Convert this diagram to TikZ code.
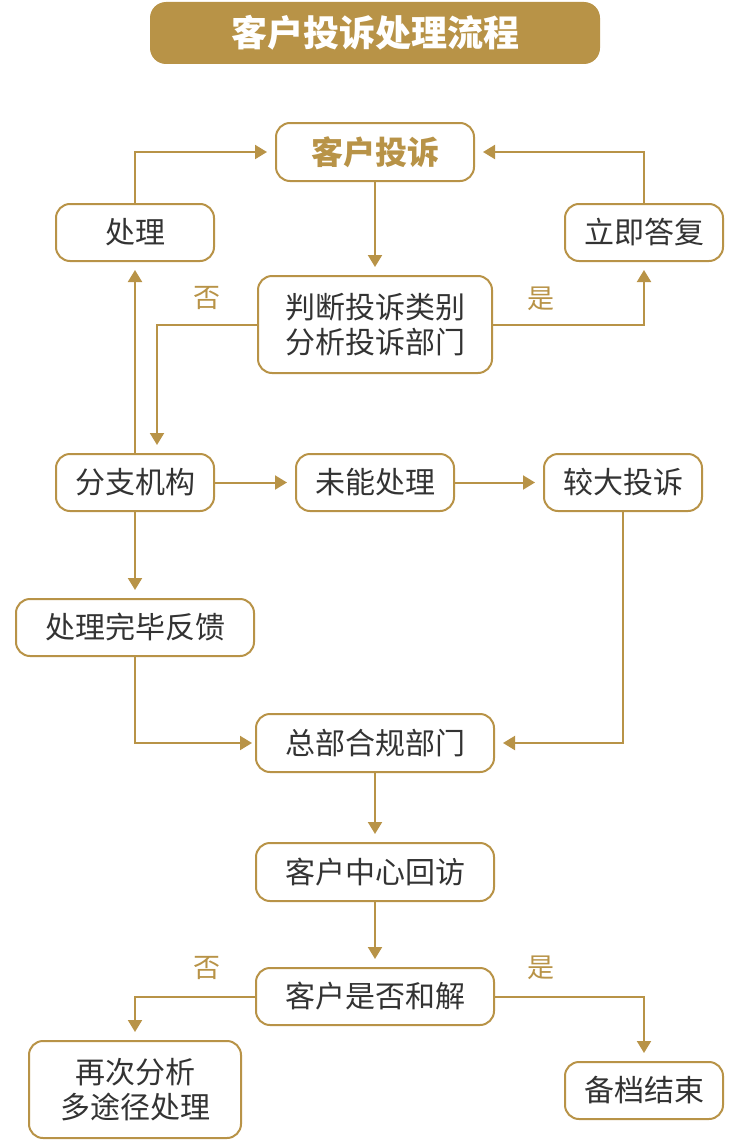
\documentclass[tikz,border=0pt]{standalone}
\usepackage{fontspec}
\setmainfont{Noto Sans CJK SC}
\usetikzlibrary{arrows.meta}
\definecolor{gold}{HTML}{B89347}
\definecolor{ink}{HTML}{333333}
\begin{document}
\begin{tikzpicture}[x=1pt,y=-1pt,
  box/.style={draw=gold, line width=2pt, rounded corners=14pt, fill=white,
    text=ink, font=\fontsize{30}{36}\selectfont, align=center, inner sep=0pt},
  link/.style={draw=gold, line width=2pt, shorten >=8pt,
    -{Triangle[width=14pt,length=12pt]}},
  tag/.style={text=gold, font=\fontsize{27}{30}\selectfont, inner sep=0pt}]
\useasboundingbox (0,0) rectangle (750,1140);

% heading bar
\node[fill=gold, rounded corners=16pt, minimum width=450pt, minimum height=62pt,
  text=white, font=\fontsize{36}{40}\selectfont\bfseries, inner sep=0pt]
  (title) at (375,33) {客户投诉处理流程};

% process boxes
\node[box, minimum width=198pt, minimum height=58pt, text=gold,
  font=\fontsize{32}{36}\selectfont\bfseries] (kehu) at (375,152) {客户投诉};
\node[box, minimum width=158pt, minimum height=57pt] (chuli) at (135,232.5) {处理};
\node[box, minimum width=158pt, minimum height=57pt] (dafu) at (644,232.5) {立即答复};
\node[box, minimum width=234pt, minimum height=97pt] (panduan) at (375,324.5)
  {判断投诉类别\\[-1pt]分析投诉部门};
\node[box, minimum width=158pt, minimum height=57pt] (fenzhi) at (135,482.5) {分支机构};
\node[box, minimum width=158pt, minimum height=57pt] (weineng) at (375,482.5) {未能处理};
\node[box, minimum width=158pt, minimum height=57pt] (jiaoda) at (623,482.5) {较大投诉};
\node[box, minimum width=238pt, minimum height=57pt] (fankui) at (135,627.5) {处理完毕反馈};
\node[box, minimum width=238pt, minimum height=58pt] (zongbu) at (375,743) {总部合规部门};
\node[box, minimum width=238pt, minimum height=58pt] (huifang) at (375,872) {客户中心回访};
\node[box, minimum width=238pt, minimum height=57pt] (hejie) at (375,996.5) {客户是否和解};
\node[box, minimum width=212pt, minimum height=97pt] (zaici) at (135,1089.5)
  {再次分析\\[-1pt]多途径处理};
\node[box, minimum width=158pt, minimum height=57pt] (beidang) at (644,1090.5) {备档结束};

% connectors
\draw[link] (chuli.north) |- (kehu.west);
\draw[link] (dafu.north) |- (kehu.east);
\draw[link] (kehu) -- (panduan);
\draw[link] (panduan.west) -| ([xshift=22pt]fenzhi.north);
\draw[link] (panduan.east) -| (dafu.south);
\draw[link] (fenzhi.north) -- (chuli.south);
\draw[link] (fenzhi) -- (weineng);
\draw[link] (weineng) -- (jiaoda);
\draw[link] (fenzhi) -- (fankui);
\draw[link, shorten >=3pt] (fankui.south) |- (zongbu.west);
\draw[link] (jiaoda.south) |- (zongbu.east);
\draw[link] (zongbu) -- (huifang);
\draw[link] (huifang) -- (hejie);
\draw[link] (hejie.west) -| (zaici.north);
\draw[link] (hejie.east) -| (beidang.north);

% branch labels
\node[tag] (no1) at (207,298) {否};
\node[tag] (yes1) at (541,299) {是};
\node[tag] (no2) at (207,968) {否};
\node[tag] (yes2) at (541,968) {是};
\end{tikzpicture}
\end{document}
